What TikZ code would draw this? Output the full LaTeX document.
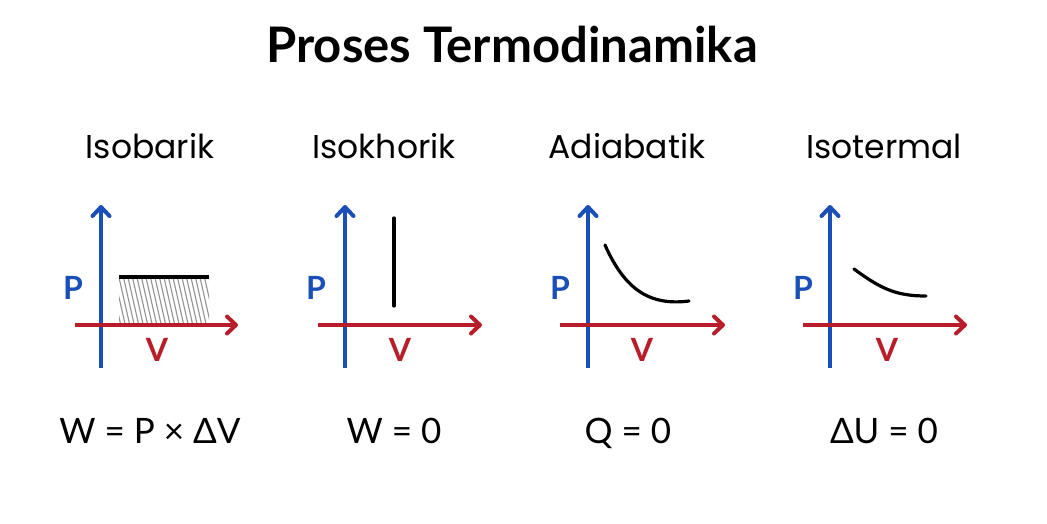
\documentclass[tikz,border=0pt]{standalone}
\usepackage{fontspec}
\setmainfont{Lato}
\newfontfamily\headfont{Poppins}
\usetikzlibrary{arrows.meta}
\definecolor{axblue}{HTML}{1A4FB8}
\definecolor{axred}{HTML}{B81E2A}
\tikzset{
  x=1pt, y=-1pt,
  title/.style={font=\fontsize{49}{52}\selectfont\bfseries, anchor=base},
  head/.style={font=\headfont\fontsize{33}{38}\selectfont, anchor=base},
  formula/.style={font=\fontsize{35}{40}\selectfont, anchor=base},
  plab/.style={font=\fontsize{32}{34}\selectfont\bfseries, text=axblue, anchor=center},
  vlab/.style={font=\fontsize{32}{34}\selectfont\bfseries, text=axred, anchor=center},
  tip/.style={-{Straight Barb[length=9pt,width=17pt,line cap=round,line join=round]}},
  paxis/.style={draw=axblue, line width=4pt, tip},
  vaxis/.style={draw=axred, line width=4pt, tip},
  curve/.style={draw=black, line width=3.2pt, line cap=round},
  hatch/.style={draw=gray!85, line width=1.1pt}
}
\begin{document}
\begin{tikzpicture}
\useasboundingbox[fill=white] (0,0) rectangle (1047,523);
\node[title] (t) at (512,62) {Proses Termodinamika};
% headings
\node[head] (h1) at (150,158) {Isobarik};
\node[head] (h2) at (384,158) {Isokhorik};
\node[head] (h3) at (627,158) {Adiabatik};
\node[head] (h4) at (884,158) {Isotermal};
% formulas
\node[formula] (f1) at (150,443) {W = P × ΔV};
\node[formula] (f2) at (394,443) {W = 0};
\node[formula] (f3) at (628,443) {Q = 0};
\node[formula] (f4) at (884,443) {ΔU = 0};

% ---------- panel 1 ----------
\coordinate (a1b) at (101,368);
\coordinate (a1t) at (101,205);
\coordinate (b1l) at (75,325);
\coordinate (b1r) at (238,325);
\begin{scope}
\clip (119,277) rectangle (209,322);
\foreach \i in {0,...,26} {
  \draw[hatch] (100+\i*4.5,273) -- (112+\i*4.5,326);
}
\end{scope}
\coordinate (i1a) at (119,277);
\coordinate (i1b) at (209,277);
\draw[curve, line cap=butt] (i1a) -- (i1b);
\draw[paxis] (a1b) -- (a1t);
\draw[vaxis] (b1l) -- (b1r);
\node[plab] (p1) at (73,288) {P};
\node[vlab] (v1) at (157,350) {V};

% ---------- panel 2 ----------
\coordinate (a2b) at (345,368);
\coordinate (a2t) at (345,205);
\coordinate (b2l) at (318,325);
\coordinate (b2r) at (482,325);
\coordinate (i2a) at (394,218);
\coordinate (i2b) at (394,306);
\draw[curve] (i2a) -- (i2b);
\draw[paxis] (a2b) -- (a2t);
\draw[vaxis] (b2l) -- (b2r);
\node[plab] (p2) at (316,288) {P};
\node[vlab] (v2) at (400,350) {V};

% ---------- panel 3 ----------
\coordinate (a3b) at (588,368);
\coordinate (a3t) at (588,205);
\coordinate (b3l) at (560,325);
\coordinate (b3r) at (725,325);
\coordinate (i3a) at (605,245);
\coordinate (i3b) at (689,301);
\draw[curve] (i3a) .. controls (625,290) and (650,306) .. (i3b);
\draw[paxis] (a3b) -- (a3t);
\draw[vaxis] (b3l) -- (b3r);
\node[plab] (p3) at (560,288) {P};
\node[vlab] (v3) at (642,350) {V};

% ---------- panel 4 ----------
\coordinate (a4b) at (830,368);
\coordinate (a4t) at (830,205);
\coordinate (b4l) at (803,325);
\coordinate (b4r) at (967,325);
\coordinate (i4a) at (854,269);
\coordinate (i4b) at (926,296);
\draw[curve] (i4a) .. controls (880,288) and (895,296) .. (i4b);
\draw[paxis] (a4b) -- (a4t);
\draw[vaxis] (b4l) -- (b4r);
\node[plab] (p4) at (803,288) {P};
\node[vlab] (v4) at (887,350) {V};
\end{tikzpicture}
\end{document}
